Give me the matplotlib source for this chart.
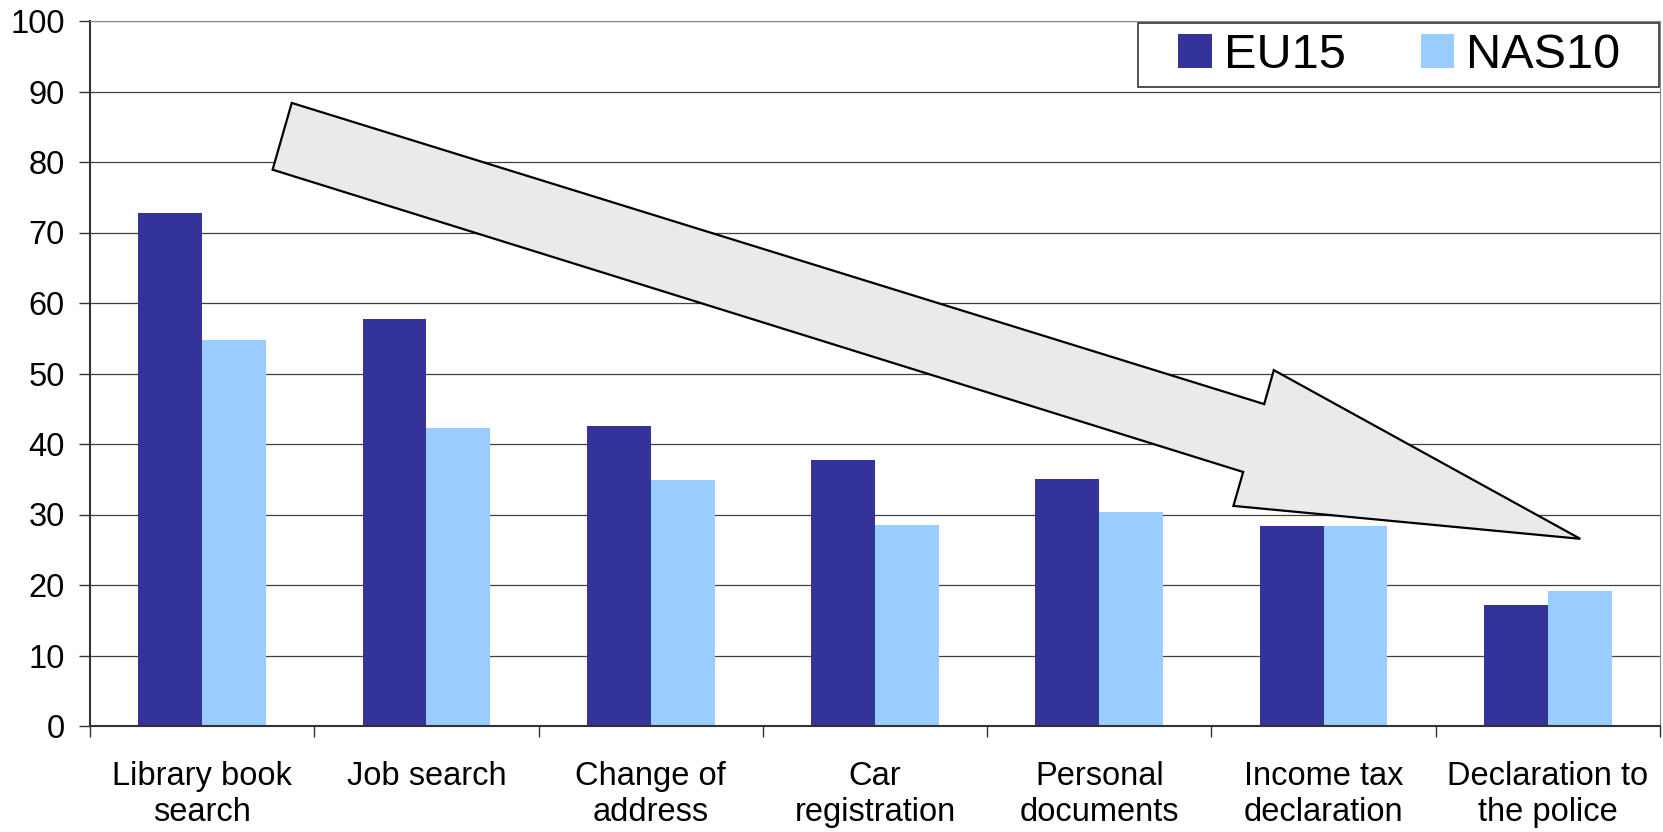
import matplotlib.pyplot as plt
import numpy as np
from matplotlib.patches import Polygon, Rectangle

plt.rcParams['font.family'] = ['Liberation Sans', 'DejaVu Sans']

services = ["Library book\nsearch", "Job search", "Change of\naddress", "Car\nregistration",
            "Personal\ndocuments", "Income tax\ndeclaration", "Declaration to\nthe police"]
eu15 = [72.8, 57.7, 42.6, 37.7, 35.0, 28.3, 17.2]
nas10 = [54.7, 42.3, 34.9, 28.5, 30.4, 28.3, 19.1]

fig = plt.figure(figsize=(16.63, 8.32), dpi=100)
ax = fig.add_axes([90 / 1663, 1 - 726 / 832, 1570 / 1663, 705 / 832])

x = np.arange(len(services))
w = 0.285
ax.bar(x - w / 2, eu15, w, color="#333399", label="EU15", zorder=2)
ax.bar(x + w / 2, nas10, w, color="#99ccff", label="NAS10", zorder=2)

ax.set_xlim(-0.5, len(services) - 0.5)
ax.set_ylim(0, 100)
ax.set_yticks(np.arange(0, 101, 10))
ax.yaxis.grid(True, color="#404040", linewidth=0.9, zorder=0)
ax.set_axisbelow(True)

ax.set_xticks(x)
ax.set_xticklabels(services, fontsize=23.5, va="top")
ax.set_xticks(np.arange(-0.5, len(services), 1), minor=True)
ax.tick_params(axis="x", which="major", length=0, pad=25)
ax.tick_params(axis="x", which="minor", length=8, width=1, color="#333333")
ax.tick_params(axis="y", length=8, width=1, color="#333333", pad=10, labelsize=23.5)

for side in ("left", "bottom"):
    ax.spines[side].set_color("#333333")
    ax.spines[side].set_linewidth(1.5)
ax.spines["right"].set_color("#888888")
ax.spines["top"].set_color("#888888")

# trend arrow, in axes fractions
arrow = Polygon([(0.1285, 0.8838), (0.7479, 0.4566), (0.7540, 0.5048), (0.9492, 0.2655),
                 (0.7283, 0.3122), (0.7345, 0.3603), (0.1163, 0.7891)],
                closed=True, transform=ax.transAxes, facecolor="#eaeaea",
                edgecolor="black", linewidth=1.6, zorder=3)
ax.add_patch(arrow)

# legend box drawn separately so its padding can be set freely
box = Rectangle((0.6675, 0.906), 0.332, 0.091, transform=ax.transAxes,
                facecolor="white", edgecolor="#333333", linewidth=1.2, zorder=4,
                clip_on=False)
ax.add_patch(box)
leg = ax.legend(loc="center", bbox_to_anchor=(0.834, 0.951), ncol=2, fontsize=35,
                frameon=False, borderpad=0, handlelength=0.68, handleheight=0.68,
                handletextpad=0.25, columnspacing=1.55)
leg.set_zorder(5)

fig.savefig("out.png", dpi=100)
